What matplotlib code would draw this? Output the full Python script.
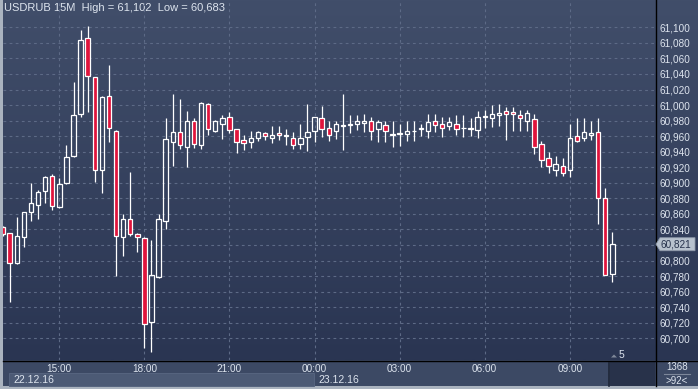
import matplotlib
matplotlib.use("Agg")
import matplotlib.pyplot as plt
import numpy as np
import pandas as pd
from matplotlib.patches import Rectangle, Polygon
from matplotlib.transforms import blended_transform_factory, IdentityTransform

plt.rcParams["font.family"] = ["Liberation Sans", "DejaVu Sans"]

# USDRUB 15M candles, 22.12.16 13:00 -> 23.12.16 10:30
opens = [60843, 60835, 60797, 60830, 60863, 60871, 60889, 60909, 60869, 60900,
         60934, 60988, 61086, 61036, 60917, 61012, 60967, 60830, 60853, 60834,
         60829, 60721, 60779, 60851, 60953, 60965, 60946, 60979, 60948, 61001,
         60966, 60976, 60984, 60969, 60955, 60952, 60958, 60964, 60958, 60964,
         60960, 60958, 60950, 60959, 60966, 60983, 60970, 60966, 60973, 60974,
         60976, 60977, 60980, 60969, 60974, 60962, 60963, 60963, 60966, 60969,
         60966, 60979, 60975, 60973, 60976, 60970, 60969, 60968, 60985, 60983,
         60987, 60992, 60991, 60987, 60979, 60982, 60950, 60932, 60916, 60921,
         60916, 60960, 60958, 60961, 60965, 60881, 60783]
highs = [60845, 60836, 60856, 60862, 60900, 60891, 60909, 60911, 60906, 60949,
         61030, 61096, 61102, 61036, 61012, 61051, 60968, 60860, 60914, 60835,
         60830, 60826, 60860, 60983, 61014, 61008, 60992, 60983, 61004, 61003,
         60981, 60987, 60991, 60969, 60962, 60966, 60966, 60965, 60973, 60973,
         60969, 60965, 60976, 61001, 60985, 60999, 60979, 60979, 61014, 60987,
         60987, 60988, 60984, 60981, 60979, 60979, 60976, 60979, 60979, 60976,
         60989, 60988, 60985, 60985, 60987, 60987, 60983, 60992, 60994, 61000,
         61001, 60997, 60997, 60993, 60994, 60988, 60954, 60940, 60935, 60932,
         60976, 60983, 60983, 60980, 60983, 60893, 60837]
lows = [60832, 60747, 60796, 60817, 60851, 60853, 60874, 60865, 60868, 60899,
        60933, 60985, 60991, 60901, 60887, 60952, 60780, 60806, 60832, 60811,
        60688, 60683, 60778, 60840, 60922, 60943, 60920, 60945, 60944, 60961,
        60965, 60956, 60964, 60938, 60942, 60945, 60954, 60955, 60951, 60955,
        60949, 60944, 60943, 60941, 60952, 60959, 60954, 60956, 60942, 60964,
        60968, 60965, 60955, 60952, 60952, 60946, 60947, 60954, 60954, 60960,
        60958, 60965, 60959, 60968, 60961, 60959, 60960, 60957, 60971, 60972,
        60973, 60955, 60967, 60967, 60966, 60937, 60920, 60913, 60909, 60909,
        60908, 60952, 60954, 60955, 60847, 60781, 60772]
closes = [60834, 60797, 60832, 60862, 60874, 60888, 60907, 60870, 60899, 60933,
          60987, 61084, 61037, 60916, 61010, 60970, 60831, 60854, 60834, 60830,
          60719, 60782, 60853, 60956, 60965, 60948, 60979, 60950, 61002, 60969,
          60979, 60983, 60968, 60953, 60951, 60957, 60965, 60960, 60962, 60961,
          60961, 60948, 60958, 60965, 60984, 60969, 60961, 60976, 60974, 60975,
          60979, 60979, 60966, 60978, 60966, 60963, 60964, 60966, 60967, 60970,
          60978, 60974, 60970, 60978, 60969, 60971, 60971, 60984, 60986, 60988,
          60990, 60988, 60988, 60983, 60990, 60946, 60929, 60921, 60924, 60912,
          60957, 60954, 60965, 60964, 60880, 60782, 60821]
y_ticks = list(range(60700, 61101, 20))
times = pd.date_range("2016-12-22 13:00", periods=len(opens), freq="15min")
title = "USDRUB 15M  High = 61,102  Low = 60,683"

W, H = 698, 389
BG_TOP = "#414e6a"; BG_BOT = "#2a3552"
PANEL = "#3c4964"; TXT = "#dde4ee"; GRID = "#5d6a86"; RED = "#e0143c"

fig = plt.figure(figsize=(W / 100, H / 100), dpi=100, facecolor="#aab3bf")

# background / frame layer in pixel coords
bg = fig.add_axes([0, 0, 1, 1])
bg.set_xlim(0, W); bg.set_ylim(H, 0); bg.axis("off")
grad = np.linspace(0, 1, 256)[:, None]
cmap = matplotlib.colors.LinearSegmentedColormap.from_list("bg", [BG_TOP, BG_BOT])
bg.imshow(grad, cmap=cmap, extent=[3, W, 360, 0], aspect="auto", zorder=0)
bg.add_patch(Rectangle((3, 360), W - 3, 26, facecolor=PANEL, edgecolor="none", zorder=1))
bg.add_patch(Rectangle((9, 373), 305, 13, facecolor="#4c5a75", edgecolor="#56647f", lw=0.7, zorder=2))
bg.add_patch(Rectangle((610, 361), 45, 25, facecolor="#28324a", edgecolor="none", zorder=2))
bg.plot([608.5, 608.5], [363, 386], color="#1f2738", lw=1.2, zorder=3)
bg.plot([3, W], [360.5, 360.5], color="black", lw=1.0, zorder=4)
bg.plot([655.5, 655.5], [0, 386], color="black", lw=1.0, zorder=4)
bg.text(13, 380, "22.12.16", color=TXT, fontsize=7.5, ha="left", va="center", zorder=5)
bg.text(318, 380, "23.12.16", color=TXT, fontsize=7.5, ha="left", va="center", zorder=5)
bg.text(677, 367, "1368", color=TXT, fontsize=7, ha="center", va="center", zorder=5)
bg.plot([664, 690], [374, 374], color="#7d879a", lw=0.8, zorder=5)
bg.text(677, 381, ">92<", color=TXT, fontsize=7, ha="center", va="center", zorder=5)
bg.add_patch(Polygon([(611, 357.5), (614, 354.5), (617, 357.5)], closed=True,
                     facecolor="#7f8899", edgecolor="none", zorder=5))
bg.text(619, 355, "5", color=TXT, fontsize=7.5, ha="left", va="center", zorder=5)
bg.text(4, 8, title, color=TXT, fontsize=8, ha="left", va="center", zorder=5)

# main chart
ax = fig.add_axes([3 / W, (H - 360) / H, 652 / W, 360 / H])
ax.set_facecolor("none")
step = 7.09
ax.set_xlim((3 - 2.6) / step, (655 - 2.6) / step)
ax.set_ylim(61100 - (360 - 27.3) / 0.7775, 61100 + 27.3 / 0.7775)
for s in ax.spines.values():
    s.set_visible(False)

xt = [i for i, t in enumerate(times) if t.minute == 0 and t.hour % 3 == 0]
ax.set_xticks(xt)
ax.set_xticklabels([times[i].strftime("%H:%M") for i in xt])
ax.set_yticks(y_ticks)
# the label under the last-price tag is hidden, as in the terminal
ax.set_yticklabels(["" if abs(v - closes[-1]) < 10 else f"{v:,}" for v in y_ticks])
ax.yaxis.tick_right()
ax.tick_params(axis="both", length=0, colors=TXT, labelsize=7.2)
ax.tick_params(axis="x", pad=3)
ax.tick_params(axis="y", pad=3)
ax.grid(True, color=GRID, linestyle=(0, (2.5, 3)), linewidth=0.8)
ax.set_axisbelow(True)

bw = 0.62
for i, (o, h, l, c) in enumerate(zip(opens, highs, lows, closes)):
    top, bot = max(o, c), min(o, c)
    if top - bot < 0.8:
        top, bot = top + 0.4, bot - 0.4
    ax.plot([i, i], [top, h], color="white", lw=0.9, solid_capstyle="butt", zorder=3)
    ax.plot([i, i], [l, bot], color="white", lw=0.9, solid_capstyle="butt", zorder=3)
    fc = RED if c < o else "none"
    ax.add_patch(Rectangle((i - bw / 2, bot), bw, top - bot, facecolor=fc,
                           edgecolor="white", lw=0.9, zorder=4))

# last price tag
tr = blended_transform_factory(ax.transAxes, ax.transData)
px, py = tr.transform((1.0, closes[-1]))
tag = Polygon([(px + 1, py), (px + 5, py + 6.5), (px + 40, py + 6.5),
               (px + 40, py - 6.5), (px + 5, py - 6.5)], closed=True,
              transform=IdentityTransform(), facecolor="#b8c2ce", edgecolor="#8e99aa",
              lw=0.6, clip_on=False, zorder=6)
fig.add_artist(tag)
fig.text((px + 5.5) / W, py / H, f"{closes[-1]:,}", color="#26324c", fontsize=7.2,
         ha="left", va="center", zorder=7)

fig.savefig("out.png", dpi=100, facecolor=fig.get_facecolor())
